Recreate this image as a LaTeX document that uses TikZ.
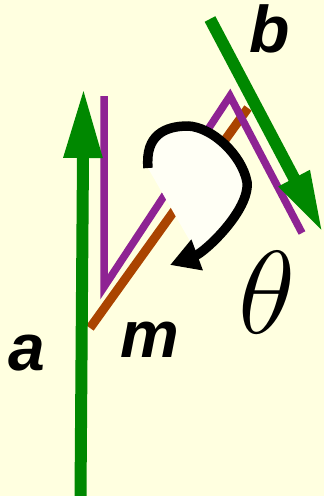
\RequirePackage{fix-cm}
\documentclass[tikz,border=0pt]{standalone}
\usepackage{fontspec}
\newfontfamily\lblfont{Liberation Sans}
\usepackage{tikz}
\usetikzlibrary{arrows.meta}
\definecolor{rgreen}{HTML}{008800}
\definecolor{rpurple}{HTML}{8E2393}
\definecolor{rbrown}{HTML}{AA4400}
\definecolor{rcream}{HTML}{FFFFE0}
\definecolor{rwhite}{HTML}{FFFFF5}
\tikzset{
  rvec/.style={rgreen, line width=12pt},
  rmirror/.style={rpurple, line width=7.5pt},
  rnormal/.style={rbrown, line width=9pt},
  rturn/.style={black, line width=9.5pt, -{Triangle[length=29pt,width=31pt]}},
  rlbl/.style={font=\lblfont\fontsize{66}{66}\selectfont\bfseries\itshape,
               inner sep=0pt, anchor=base},
}

\begin{document}
\begin{tikzpicture}[x=1pt,y=-1pt]

  \fill[rcream] (0,0) rectangle (324,496);
  \useasboundingbox (0,0) rectangle (324,496);

  % --- pontos ---
  \coordinate (atail) at (80.5,496);
  \coordinate (ahead) at (83.5,88);
  \coordinate (btail) at (210,19);
  \coordinate (bhead) at (323,233);
  \coordinate (mlow)  at (90,328);
  \coordinate (mhigh) at (248,108);
  \coordinate (p1) at (104,96);
  \coordinate (p2) at (104,287);
  \coordinate (p3) at (230,96);
  \coordinate (p4) at (302,233);

  % --- normal e espelho ---
  \draw[rnormal] (mlow) -- (mhigh);
  \draw[rmirror] (p1) -- (p2) -- (p3) -- (p4);

  % --- vetores ---
  \draw[rvec, -{Triangle[length=70pt,width=36pt]}] (atail) -- (ahead);
  \draw[rvec, -{Triangle[length=62pt,width=32pt]}] (btail) -- (bhead);

  % --- rotacao ---
  \fill[rwhite] (148,168) .. controls (145,135) and (165,126) .. (188,126)
    .. controls (212,127) and (242,155) .. (247,182)
    .. controls (250,205) and (225,240) .. (198,255) -- cycle;
  \draw[rturn] (148,168) .. controls (145,135) and (165,126) .. (188,126)
    .. controls (212,127) and (242,155) .. (247,182)
    .. controls (250,210) and (205,252) .. (170,265);

  % --- rotulos ---
  \node[rlbl] (la) at (27,370) {a};
  \node[rlbl] (lb) at (270,52) {b};
  \node[rlbl] (lm) at (150,357) {m};
  \node[inner sep=0pt, anchor=base, font=\fontsize{118}{118}\selectfont]
    (lt) at (267,333) {$\theta$};

\end{tikzpicture}
\end{document}
